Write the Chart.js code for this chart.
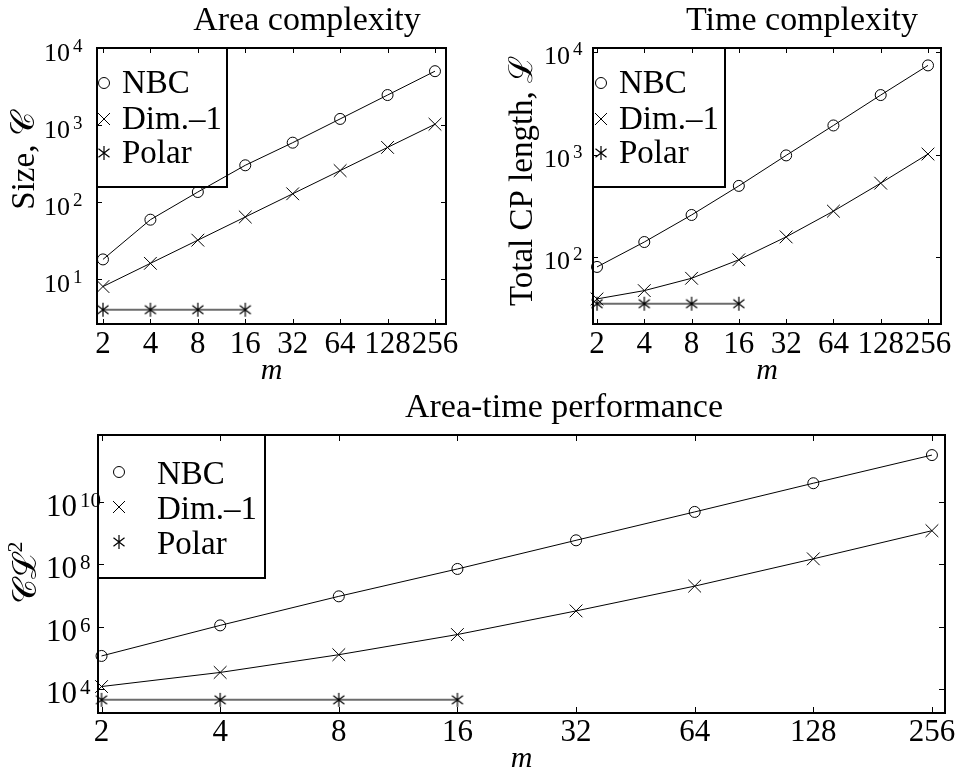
<!DOCTYPE html>
<html>
<head>
<meta charset="utf-8">
<script src="https://cdn.jsdelivr.net/npm/chart.js@4/dist/chart.umd.min.js"></script>
<style>
  html, body { margin: 0; padding: 0; background: #fff; overflow: hidden; }
  #wrap { position: relative; width: 963px; height: 767px; }
  canvas { position: absolute; }
</style>
</head>
<body>
<div id="wrap">
  <canvas id="areaChart" width="480" height="390" style="left:0;top:0"></canvas>
  <canvas id="timeChart" width="483" height="390" style="left:480px;top:0"></canvas>
  <canvas id="atChart" width="963" height="377" style="left:0;top:390px"></canvas>
</div>
<script>
// Number of code bits m (x axis, log2 spaced)
const mValues = [2, 4, 8, 16, 32, 64, 128, 256];
const mPolar = [2, 4, 8, 16];
const seriesNames = ['NBC', 'Dim.–1', 'Polar'];

// Size C
const areaNBC = [18, 59, 135, 300, 590, 1200, 2450, 5000];
const areaDim1 = [8, 16, 32, 64, 128, 256, 512, 1024];
const areaPolar = [4, 4, 4, 4];

// Total critical-path length L
const timeNBC = [80, 140, 257, 494, 980, 1920, 3800, 7400];
const timeDim1 = [39, 47, 62, 94, 157, 280, 525, 1010];
const timePolar = [35, 35, 35, 35];

// Area-time product C*L^2
const atNBC = [1.15e5, 1.1e6, 9.4e6, 7.1e7, 5.9e8, 4.8e9, 4.0e10, 3.2e11];
const atDim1 = [1.2e4, 3.4e4, 1.26e5, 5.6e5, 3.2e6, 2.0e7, 1.5e8, 1.2e9];
const atPolar = [4.5e3, 4.5e3, 4.5e3, 4.5e3];

// Decade tick marks on the y axes
const areaYTicks = [1e1, 1e2, 1e3, 1e4];
const timeYTicks = [1e2, 1e3, 1e4];
const atYTicks = [1e4, 1e6, 1e8, 1e10];

const SERIF = '"Liberation Serif", "DejaVu Serif", serif';

// six-armed asterisk marker
function asteriskMarker(size) {
  const c = document.createElement('canvas');
  c.width = c.height = size;
  const g = c.getContext('2d');
  const h = size / 2, r = h - 1;
  g.strokeStyle = '#000';
  g.lineWidth = 1.2;
  g.beginPath();
  for (const deg of [90, 38, -38]) {
    const a = deg * Math.PI / 180;
    const dx = Math.cos(a) * r, dy = Math.sin(a) * r;
    g.moveTo(h - dx, h - dy);
    g.lineTo(h + dx, h + dy);
  }
  g.stroke();
  return c;
}
const starImg = asteriskMarker(16);

function drawMarker(ctx, kind, x, y) {
  ctx.save();
  ctx.strokeStyle = '#000';
  ctx.lineWidth = 1;
  if (kind === 0) {
    ctx.beginPath(); ctx.arc(x, y, 5.5, 0, Math.PI * 2); ctx.stroke();
  } else if (kind === 1) {
    ctx.beginPath();
    ctx.moveTo(x - 6, y - 6); ctx.lineTo(x + 6, y + 6);
    ctx.moveTo(x + 6, y - 6); ctx.lineTo(x - 6, y + 6);
    ctx.stroke();
  } else {
    ctx.drawImage(starImg, x - 8, y - 8);
  }
  ctx.restore();
}

// frame, inward ticks, decade labels, legend box, titles
const panelPlugin = {
  id: 'panel',
  afterDatasetsDraw(chart, args, o) {
    const { ctx, chartArea: a, scales: { x, y } } = chart;
    ctx.save();
    ctx.strokeStyle = '#000';
    ctx.lineWidth = 1;
    ctx.beginPath();
    x.ticks.forEach(t => {
      const px = Math.round(x.getPixelForValue(t.value)) + 0.5;
      ctx.moveTo(px, a.bottom); ctx.lineTo(px, a.bottom - o.tick);
      ctx.moveTo(px, a.top); ctx.lineTo(px, a.top + o.tick);
    });
    o.yTicks.forEach(v => {
      const py = Math.round(y.getPixelForValue(v)) + 0.5;
      ctx.moveTo(a.left, py); ctx.lineTo(a.left + o.tick, py);
      ctx.moveTo(a.right, py); ctx.lineTo(a.right - o.tick, py);
    });
    ctx.stroke();

    ctx.lineWidth = 2;
    ctx.strokeRect(a.left, a.top, a.right - a.left, a.bottom - a.top);

    // y decade labels: base "10" with raised exponent
    ctx.fillStyle = '#000';
    ctx.textBaseline = 'alphabetic';
    o.yTicks.forEach(v => {
      const py = y.getPixelForValue(v);
      const e = Math.round(Math.log10(v));
      ctx.font = o.baseSize + 'px ' + SERIF;
      ctx.textAlign = 'right';
      ctx.fillText('10', o.baseRight, py + o.baseDy);
      ctx.font = o.expSize + 'px ' + SERIF;
      ctx.textAlign = 'left';
      ctx.fillText(String(e), o.baseRight + 3, py + o.expDy);
    });

    // legend
    const L = o.legend;
    ctx.lineWidth = 2;
    ctx.strokeRect(a.left, a.top, L.right - a.left, L.bottom - a.top);
    ctx.font = '33px ' + SERIF;
    ctx.textAlign = 'left';
    seriesNames.forEach((name, i) => {
      drawMarker(ctx, i, L.markerX, L.baselines[i] - L.markerDy);
      ctx.fillText(name, L.textX, L.baselines[i]);
    });

    // chart title
    ctx.font = '34px ' + SERIF;
    ctx.textAlign = 'center';
    ctx.fillText(o.title, o.titleX, o.titleY);

    // rotated y-axis title
    ctx.translate(o.yTitleX, o.yTitleY);
    ctx.rotate(-Math.PI / 2);
    ctx.textBaseline = 'middle';
    if (o.yTitleSup) {
      ctx.font = '34px ' + SERIF;
      const w1 = ctx.measureText(o.yTitle).width;
      ctx.font = '22px ' + SERIF;
      const w2 = ctx.measureText(o.yTitleSup).width;
      const x0 = -(w1 + w2) / 2;
      ctx.font = '34px ' + SERIF;
      ctx.textAlign = 'left';
      ctx.fillText(o.yTitle, x0, 0);
      ctx.font = '22px ' + SERIF;
      ctx.fillText(o.yTitleSup, x0 + w1 + 1, -11);
    } else {
      ctx.font = '33px ' + SERIF;
      ctx.textAlign = 'center';
      ctx.fillText(o.yTitle, 0, 0);
    }
    ctx.restore();
  }
};

function series(label, xs, ys, kind) {
  const base = {
    label,
    data: xs.map((m, i) => ({ x: m, y: ys[i] })),
    borderColor: '#000',
    borderWidth: 1,
    pointBorderColor: '#000',
    pointBackgroundColor: 'rgba(0,0,0,0)',
    pointBorderWidth: 1,
    fill: false,
    tension: 0,
    clip: false
  };
  if (kind === 0) return Object.assign(base, { pointStyle: 'circle', pointRadius: 5.5 });
  if (kind === 1) return Object.assign(base, { pointStyle: 'crossRot', pointRadius: 9 });
  return Object.assign(base, { pointStyle: starImg, borderColor: '#6c6c6c', borderWidth: 2 });
}

function makeChart(id, c) {
  return new Chart(document.getElementById(id), {
    type: 'line',
    data: {
      datasets: [
        series(seriesNames[0], mValues, c.nbc, 0),
        series(seriesNames[1], mValues, c.dim1, 1),
        series(seriesNames[2], mPolar, c.polar, 2)
      ]
    },
    options: {
      responsive: false,
      animation: false,
      events: [],
      layout: { padding: { top: c.top, right: c.right, left: 0, bottom: 0 } },
      plugins: { legend: { display: false }, tooltip: { enabled: false }, panel: c.panel },
      scales: {
        x: {
          type: 'logarithmic', min: c.xMin, max: c.xMax, bounds: 'data',
          grid: { display: false, drawTicks: false },
          border: { display: false },
          ticks: {
            autoSkip: false, maxRotation: 0, minRotation: 0, color: '#000',
            font: { family: SERIF, size: 31 }, padding: c.xPad,
            callback: v => String(v)
          },
          afterBuildTicks: s => { s.ticks = mValues.map(v => ({ value: v })); },
          afterFit: s => { s.height = c.xHeight; s.paddingLeft = 0; s.paddingRight = 0; },
          title: {
            display: true, text: 'm', color: '#000',
            font: { family: SERIF, size: 30, style: 'italic' },
            padding: { top: 0, bottom: c.mPad }
          }
        },
        y: {
          type: 'logarithmic', min: c.yMin, max: c.yMax, bounds: 'data',
          grid: { display: false, drawTicks: false },
          border: { display: false },
          ticks: { display: false },
          afterFit: s => { s.width = c.left; s.paddingTop = 0; s.paddingBottom = 0; }
        }
      }
    },
    plugins: [panelPlugin]
  });
}

makeChart('areaChart', {
  nbc: areaNBC, dim1: areaDim1, polar: areaPolar,
  top: 48, right: 34, left: 97, xHeight: 66, xPad: 2, mPad: 1,
  xMin: 1.833, xMax: 300.7, yMin: 2.61, yMax: 1e4,
  panel: {
    tick: 5, yTicks: areaYTicks,
    baseSize: 26, expSize: 19, baseRight: 70, baseDy: 13, expDy: 4,
    legend: { right: 227, bottom: 187, markerX: 104, textX: 122, baselines: [93, 129, 163], markerDy: 10 },
    title: 'Area complexity', titleX: 307, titleY: 30,
    yTitle: 'Size, 𝒞', yTitleX: 25, yTitleY: 161
  }
});

makeChart('timeChart', {
  nbc: timeNBC, dim1: timeDim1, polar: timePolar,
  top: 48, right: 22, left: 113, xHeight: 66, xPad: 2, mPad: 1,
  xMin: 1.886, xMax: 309.8, yMin: 22.2, yMax: 10940,
  panel: {
    tick: 5, yTicks: timeYTicks,
    baseSize: 26, expSize: 19, baseRight: 90, baseDy: 12, expDy: 3,
    legend: { right: 245, bottom: 187, markerX: 121, textX: 139, baselines: [93, 129, 163], markerDy: 10 },
    title: 'Time complexity', titleX: 322, titleY: 30,
    yTitle: 'Total CP length, ℒ', yTitleX: 43, yTitleY: 181
  }
});

makeChart('atChart', {
  nbc: atNBC, dim1: atDim1, polar: atPolar,
  top: 45, right: 18, left: 98, xHeight: 54, xPad: 1, mPad: -10,
  xMin: 1.959, xMax: 276.3, yMin: 1.7e3, yMax: 1.41e12,
  panel: {
    tick: 6, yTicks: atYTicks,
    baseSize: 31, expSize: 21, baseRight: 77, baseDy: 14, expDy: 5,
    legend: { right: 265, bottom: 188, markerX: 119, textX: 157, baselines: [94, 129, 164], markerDy: 12 },
    title: 'Area-time performance', titleX: 564, titleY: 27,
    yTitle: '𝒞ℒ', yTitleSup: '2', yTitleX: 27, yTitleY: 183
  }
});
</script>
</body>
</html>
